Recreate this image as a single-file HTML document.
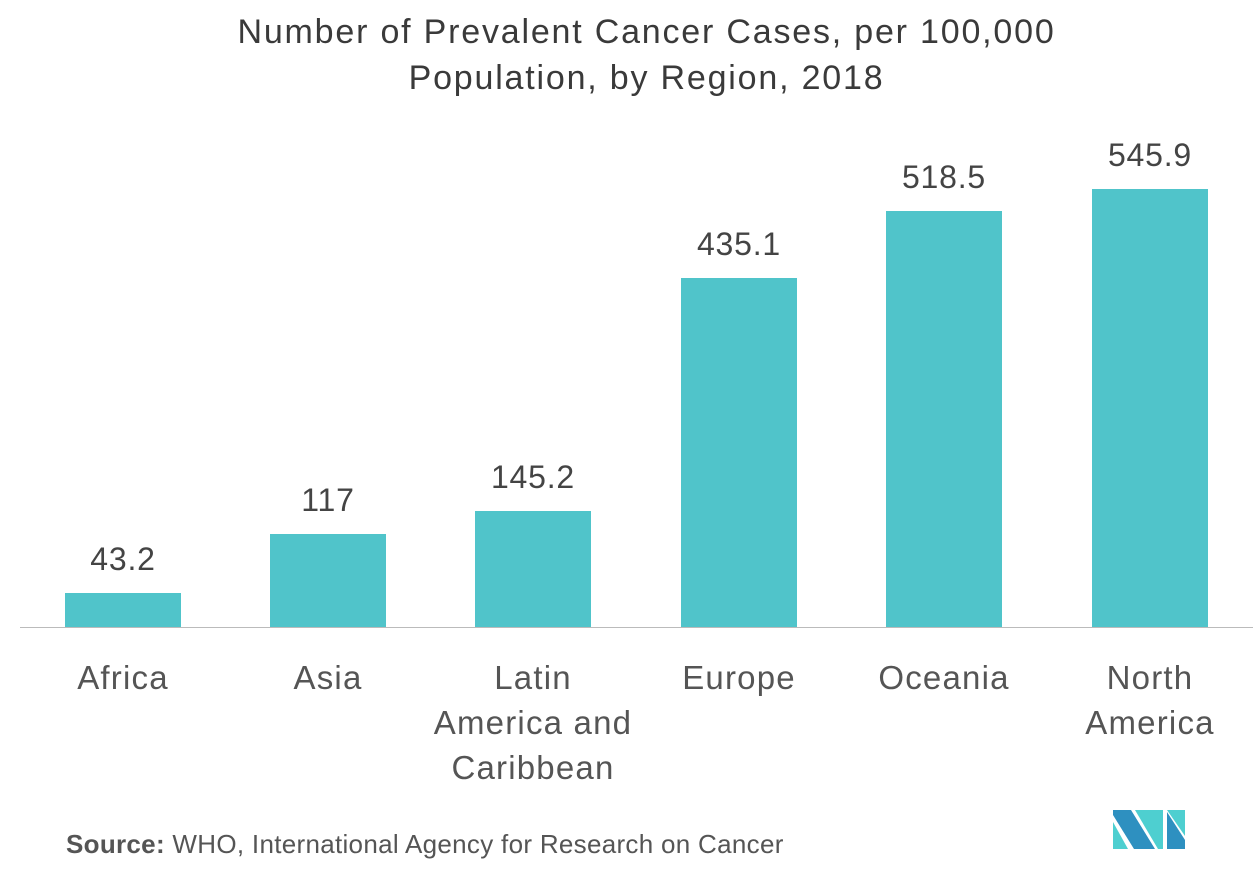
<!DOCTYPE html>
<html><head><meta charset="utf-8"><style>
body{margin:0;background:#fff;width:1253px;height:881px;position:relative;overflow:hidden;font-family:"Liberation Sans",sans-serif;color:#444}
.t{position:absolute;left:20px;width:1253px;text-align:center;font-size:34px;letter-spacing:1.8px;line-height:46px;top:9px;color:#3a3a3a}
.bar{position:absolute;background:#50c4ca;width:116px}
.v{position:absolute;width:160px;text-align:center;font-size:32px;letter-spacing:0.8px;color:#444}
.c{position:absolute;width:240px;text-align:center;font-size:33px;letter-spacing:1.2px;line-height:45px;color:#555;top:655px}
</style></head><body>
<div class="t">Number of Prevalent Cancer Cases, per 100,000<br>Population, by Region, 2018</div>
<div style="position:absolute;left:20px;top:627px;width:1233px;height:1px;background:#bbb"></div>
<div class="bar" style="left:65px;top:593px;height:34px"></div>
<div class="bar" style="left:270px;top:534px;height:93px"></div>
<div class="bar" style="left:475px;top:511px;height:116px"></div>
<div class="bar" style="left:681px;top:278px;height:349px"></div>
<div class="bar" style="left:886px;top:211px;height:416px"></div>
<div class="bar" style="left:1092px;top:189px;height:438px"></div>
<div class="v" style="left:43px;top:541px">43.2</div>
<div class="v" style="left:248px;top:482px">117</div>
<div class="v" style="left:453px;top:459px">145.2</div>
<div class="v" style="left:659px;top:226px">435.1</div>
<div class="v" style="left:864px;top:159px">518.5</div>
<div class="v" style="left:1070px;top:137px">545.9</div>
<div class="c" style="left:3px">Africa</div>
<div class="c" style="left:208px">Asia</div>
<div class="c" style="left:413px">Latin<br>America and<br>Caribbean</div>
<div class="c" style="left:619px">Europe</div>
<div class="c" style="left:824px">Oceania</div>
<div class="c" style="left:1030px">North<br>America</div>
<div style="position:absolute;left:66px;top:829px;font-size:26px;letter-spacing:0.3px;color:#555"><b>Source:</b> WHO, International Agency for Research on Cancer</div>
<svg style="position:absolute;left:0;top:0" width="1253" height="881">
<polygon points="1113,822 1113,849 1128,849" fill="#4ecfd0"/>
<polygon points="1113,810 1131,810 1155,849 1134,849 1113,815" fill="#2e90c0"/>
<polygon points="1135,810 1163,810 1163,849 1158,849" fill="#4ecfd0"/>
<polygon points="1167,812 1185,840 1185,849 1167,849" fill="#2e90c0"/>
<polygon points="1167,810 1185,810 1185,836" fill="#4ecfd0"/>
</svg>
</body></html>
